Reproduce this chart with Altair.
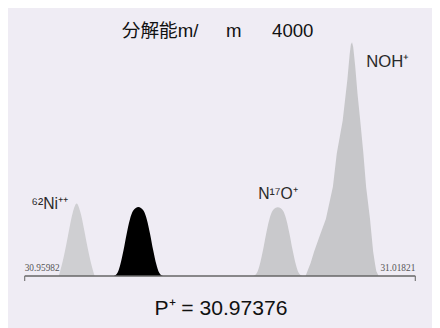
import altair as alt
import pandas as pd

# Peak profiles (x: relative position 0..100 along the mass axis, h: intensity, NOH top = 100)
ni_x = [8.7, 9.4, 10.1, 10.6, 11.4, 12.3, 13.3, 14.3, 15.2, 16.0, 16.5, 17.2, 17.9]
ni_h = [0, 4, 9, 13, 20, 27, 31, 27, 20, 13, 9, 4, 0]

p_x = [22.8, 23.8, 24.5, 25.3, 26.1, 26.9, 27.8, 29.1, 30.4, 31.3, 32.1, 32.9, 33.7, 34.4, 35.4]
p_h = [0, 1.5, 5, 11, 18, 24, 28, 29.5, 28, 24, 18, 11, 5, 1.5, 0]

n17o_x = [58.5, 59.5, 60.2, 61.0, 61.8, 62.6, 63.5, 64.8, 66.1, 67.0, 67.8, 68.6, 69.4, 70.1, 71.1]
n17o_h = [0, 1.5, 5, 11, 18, 24, 28, 29.4, 28, 24, 18, 11, 5, 1.5, 0]

noh_x = [71.9, 72.4, 73.2, 74.1, 75.6, 77.1, 78.9, 79.9, 81.4, 82.6, 83.2, 83.5, 83.8,
         84.1, 84.6, 85.2, 85.9, 86.7, 87.4, 88.4, 89.2, 89.7, 90.0, 90.6]
noh_h = [0, 2.1, 5.5, 10.5, 17.5, 24.4, 38.2, 52.5, 66.4, 84, 95, 99, 100,
         98, 90, 78, 66.4, 52.5, 38.2, 24.4, 10.5, 5, 2.1, 0]

axis_start = 0
axis_end = 100
axis_labels = ["30.95982", "31.01821"]

peaks = ["Ni", "P", "N17O", "NOH"]
peak_colors = ["#cfcfd2", "#000000", "#c9c9cc", "#c7c7ca"]

rows = []
for name, xs_, hs_ in [("Ni", ni_x, ni_h), ("P", p_x, p_h),
                       ("N17O", n17o_x, n17o_h), ("NOH", noh_x, noh_h)]:
    for x, h in zip(xs_, hs_):
        rows.append({"peak": name, "x": x, "h": h})
df = pd.DataFrame(rows)

xs = alt.Scale(domain=[-4.27, 104.27], nice=False, zero=False)
ys = alt.Scale(domain=[-21.0, 113.4], nice=False, zero=False)
cs = alt.Scale(domain=peaks, range=peak_colors)

small = alt.Chart(df[df["peak"] != "NOH"]).mark_area(interpolate="monotone").encode(
    x=alt.X("x:Q", scale=xs, axis=None),
    y=alt.Y("h:Q", scale=ys, axis=None, stack=None),
    color=alt.Color("peak:N", scale=cs, legend=None),
)
big = alt.Chart(df[df["peak"] == "NOH"]).mark_area(interpolate="linear").encode(
    x=alt.X("x:Q", scale=xs, axis=None),
    y=alt.Y("h:Q", scale=ys, axis=None, stack=None),
    color=alt.Color("peak:N", scale=cs, legend=None),
)

axis_df = pd.DataFrame({"x": [axis_start], "x2": [axis_end], "y": [0]})
axis_line = alt.Chart(axis_df).mark_rule(color="#666666", strokeWidth=1.6).encode(
    x=alt.X("x:Q", scale=xs), x2="x2:Q", y=alt.Y("y:Q", scale=ys)
)

tick_df = pd.DataFrame({"x": [axis_start, axis_end], "y": [0, 0], "y2": [-2.2, -2.2]})
ticks = alt.Chart(tick_df).mark_rule(color="#777777", strokeWidth=1.2).encode(
    x=alt.X("x:Q", scale=xs), y=alt.Y("y:Q", scale=ys), y2="y2:Q"
)

lab_df = pd.DataFrame({"x": [axis_start, axis_end], "y": [2.0, 2.0], "t": axis_labels})
lab_left = alt.Chart(lab_df.iloc[[0]]).mark_text(
    align="left", baseline="alphabetic", fontSize=9.5, color="#555555", font="Liberation Serif"
).encode(x=alt.X("x:Q", scale=xs), y=alt.Y("y:Q", scale=ys), text="t:N")
lab_right = alt.Chart(lab_df.iloc[[1]]).mark_text(
    align="right", baseline="alphabetic", fontSize=9.5, color="#555555", font="Liberation Serif"
).encode(x=alt.X("x:Q", scale=xs), y=alt.Y("y:Q", scale=ys), text="t:N")

FONT = "Liberation Sans, Noto Sans CJK JP"

def ann(text, px, py, size, color="#111111", align="left", weight="normal"):
    return alt.Chart(pd.DataFrame({"t": [text]})).mark_text(
        align=align, baseline="alphabetic", fontSize=size, color=color, font=FONT, fontWeight=weight
    ).encode(x=alt.value(px), y=alt.value(py), text="t:N")

texts = [
    ann("分解能m/", 116, 27, 19),
    ann("m", 222, 27, 19),
    ann("4000", 269, 27, 19),
    ann("P⁺ = 30.97376", 217, 310, 21.5, align="center"),
    ann("⁶²Ni⁺⁺", 24, 202, 16, color="#2a2a2a"),
    ann("N¹⁷O⁺", 255, 192, 16, color="#2a2a2a"),
    ann("NOH⁺", 365, 57, 17, color="#2a2a2a"),
]

chart = alt.layer(small, big, axis_line, ticks, lab_left, lab_right, *texts).properties(
    width=432, height=320, padding=0, background="#efecf4",
    autosize=alt.AutoSizeParams(type="fit", contains="padding"),
).configure_view(stroke=None)

chart.save("out.html", embed_options={"renderer": "svg", "actions": False})
